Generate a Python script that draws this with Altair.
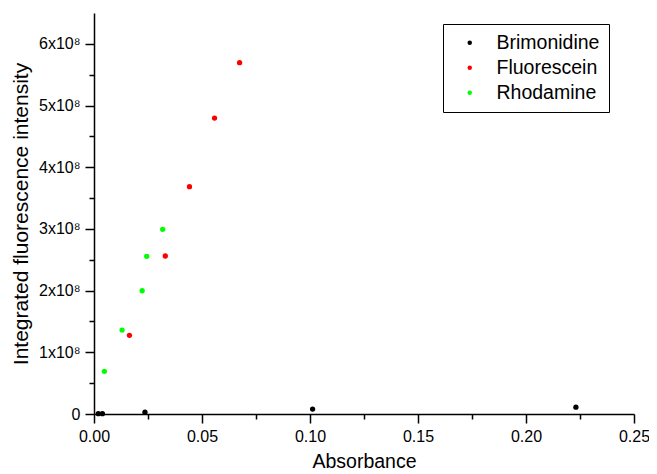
import altair as alt
import pandas as pd

series = ["Brimonidine", "Fluorescein", "Rhodamine"]
colors = ["#000000", "#ff0000", "#00ff00"]

brim_x = [0.0020, 0.0039, 0.0236, 0.1012, 0.2231]
brim_y = [0.5e6, 0.5e6, 3.0e6, 8.0e6, 1.1e7]
fluo_x = [0.0164, 0.0330, 0.0442, 0.0558, 0.0674]
fluo_y = [1.276e8, 2.561e8, 3.684e8, 4.797e8, 5.694e8]
rhod_x = [0.0048, 0.0130, 0.0223, 0.0244, 0.0318]
rhod_y = [0.692e8, 1.361e8, 1.998e8, 2.556e8, 2.993e8]

x_ticks = [0, 0.025, 0.05, 0.075, 0.1, 0.125, 0.15, 0.175, 0.2, 0.225, 0.25]
y_ticks = [0, 50000000, 100000000, 150000000, 200000000, 250000000, 300000000,
           350000000, 400000000, 450000000, 500000000, 550000000, 600000000]

rows = []
for name, xs, ys in [("Brimonidine", brim_x, brim_y),
                     ("Fluorescein", fluo_x, fluo_y),
                     ("Rhodamine", rhod_x, rhod_y)]:
    for a, b in zip(xs, ys):
        rows.append({"x": a, "y": b, "series": name})
df = pd.DataFrame(rows)

font = "Liberation Sans"

x_major = "round(datum.value*1000) % 50 == 0"
y_major = "datum.value % 100000000 == 0"

chart = alt.Chart(df).mark_circle(size=28, opacity=1).encode(
    x=alt.X("x:Q", title="Absorbance",
            scale=alt.Scale(domain=[0, 0.25], nice=False, zero=False),
            axis=alt.Axis(values=x_ticks, labelFlush=False,
                          labelExpr=f"{x_major} ? format(datum.value, '.2f') : ''",
                          tickSize={"condition": {"test": x_major, "value": 9}, "value": 5},
                          labelPadding=5, titlePadding=8)),
    y=alt.Y("y:Q", title="Integrated fluorescence intensity",
            scale=alt.Scale(domain=[0, 650000000], nice=False, zero=False),
            axis=alt.Axis(values=y_ticks, labelFlush=False,
                          labelExpr=f"datum.value == 0 ? '0' : ({y_major} ? format(datum.value/100000000, 'd') + 'x10⁸' : '')",
                          tickSize={"condition": {"test": y_major, "value": 9}, "value": 5},
                          labelPadding=5, titlePadding=7, titleFontSize=21)),
    color=alt.Color("series:N",
                    scale=alt.Scale(domain=series, range=colors),
                    legend=alt.Legend(title=None, orient="none", legendX=349, legendY=11,
                                      strokeColor="black", padding=9, symbolOffset=8,
                                      symbolType="circle", symbolSize=20, labelOffset=17,
                                      rowPadding=4, labelFontSize=19.5, labelFont=font,
                                      labelColor="black")),
).properties(
    width=540, height=401,
    padding={"left": 86, "top": 5, "right": 15, "bottom": 58},
    autosize=alt.AutoSizeParams(type="none"),
).configure_view(stroke=None).configure_axis(
    grid=False, domainColor="black", domainWidth=1.5, tickColor="black", tickWidth=1.5,
    labelFont=font, labelFontSize=16, labelColor="black",
    titleFont=font, titleFontSize=19.5, titleFontWeight="normal", titleColor="black",
)

chart.save("out.html", embed_options={"renderer": "svg", "actions": False})
